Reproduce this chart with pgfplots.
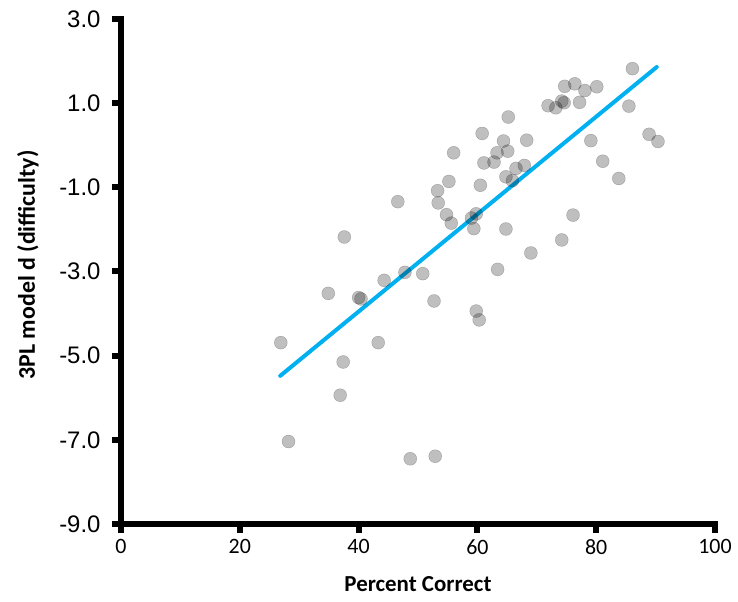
\documentclass[border=0pt]{standalone}
\usepackage{fontspec}
\setmainfont{Carlito}
\newfontfamily\arialfont{Liberation Sans}
\usepackage{pgfplots}
\pgfplotsset{compat=1.18}
\definecolor{trendBlue}{RGB}{0,176,240}

\pgfplotstableread{
x y
26.9 -4.69
28.2 -7.04
34.9 -3.52
37.6 -2.18
37.4 -5.15
36.9 -5.94
40.0 -3.62
40.4 -3.65
44.3 -3.21
43.3 -4.69
46.6 -1.34
47.8 -3.02
50.8 -3.05
52.7 -3.70
48.7 -7.45
52.9 -7.39
56.0 -0.18
55.2 -0.86
53.3 -1.08
53.4 -1.37
54.8 -1.65
55.6 -1.85
59.0 -1.73
59.8 -1.63
59.4 -1.98
60.8 0.28
61.1 -0.42
60.5 -0.95
59.8 -3.94
60.3 -4.15
86.1 1.82
74.7 1.40
76.4 1.46
78.1 1.30
80.1 1.39
71.9 0.94
73.2 0.89
74.2 1.05
74.6 1.01
77.2 1.02
85.5 0.93
65.2 0.67
64.4 0.10
68.3 0.12
63.3 -0.18
65.1 -0.14
62.8 -0.40
66.5 -0.55
67.9 -0.48
64.8 -0.75
65.9 -0.84
79.1 0.11
81.1 -0.38
83.8 -0.79
88.9 0.26
90.4 0.09
64.8 -1.99
76.1 -1.66
74.2 -2.25
69.0 -2.56
63.4 -2.95
}\items

\begin{document}
\begin{tikzpicture}
\path[use as bounding box] (-121bp,-78bp) rectangle (617bp,524bp);
\begin{axis}[
  at={(0,0)}, anchor=south west,
  scale only axis, width=594bp, height=505bp,
  xmin=0, xmax=100, ymin=-9, ymax=3,
  axis lines*=left,
  axis line style={line width=6bp, line cap=rect},
  xtick={0,20,...,100},
  xticklabels={0,20,40,60,80,100},
  ytick={-9,-7,...,3},
  yticklabels={-9.0,-7.0,-5.0,-3.0,-1.0,1.0,3.0},
  tick align=outside,
  major tick length=9bp,
  tick style={line width=6bp, black},
  xticklabel style={font=\fontsize{22}{24}\selectfont, yshift=-3bp},
  yticklabel style={font=\arialfont\fontsize{24}{26}\selectfont, xshift=-8bp},
  xlabel={\textbf{Percent Correct}},
  ylabel={\textbf{3PL model d (difficulty)}},
  xlabel style={at={(axis description cs:0.5,-0.134)}, anchor=base, font=\fontsize{23}{25}\selectfont},
  ylabel style={at={(axis description cs:-0.1566,0.513)}, anchor=center, font=\fontsize{24}{26}\selectfont},
  clip=false,
]
\addplot[only marks, mark=*, mark size=6.5bp,
  mark options={draw=none, fill=black, opacity=0.25}] table[x=x, y=y] {\items};
\addplot[trendBlue, line width=4bp, line cap=round] coordinates {(26.8,-5.48) (90.2,1.86)};
\end{axis}
\end{tikzpicture}
\end{document}
